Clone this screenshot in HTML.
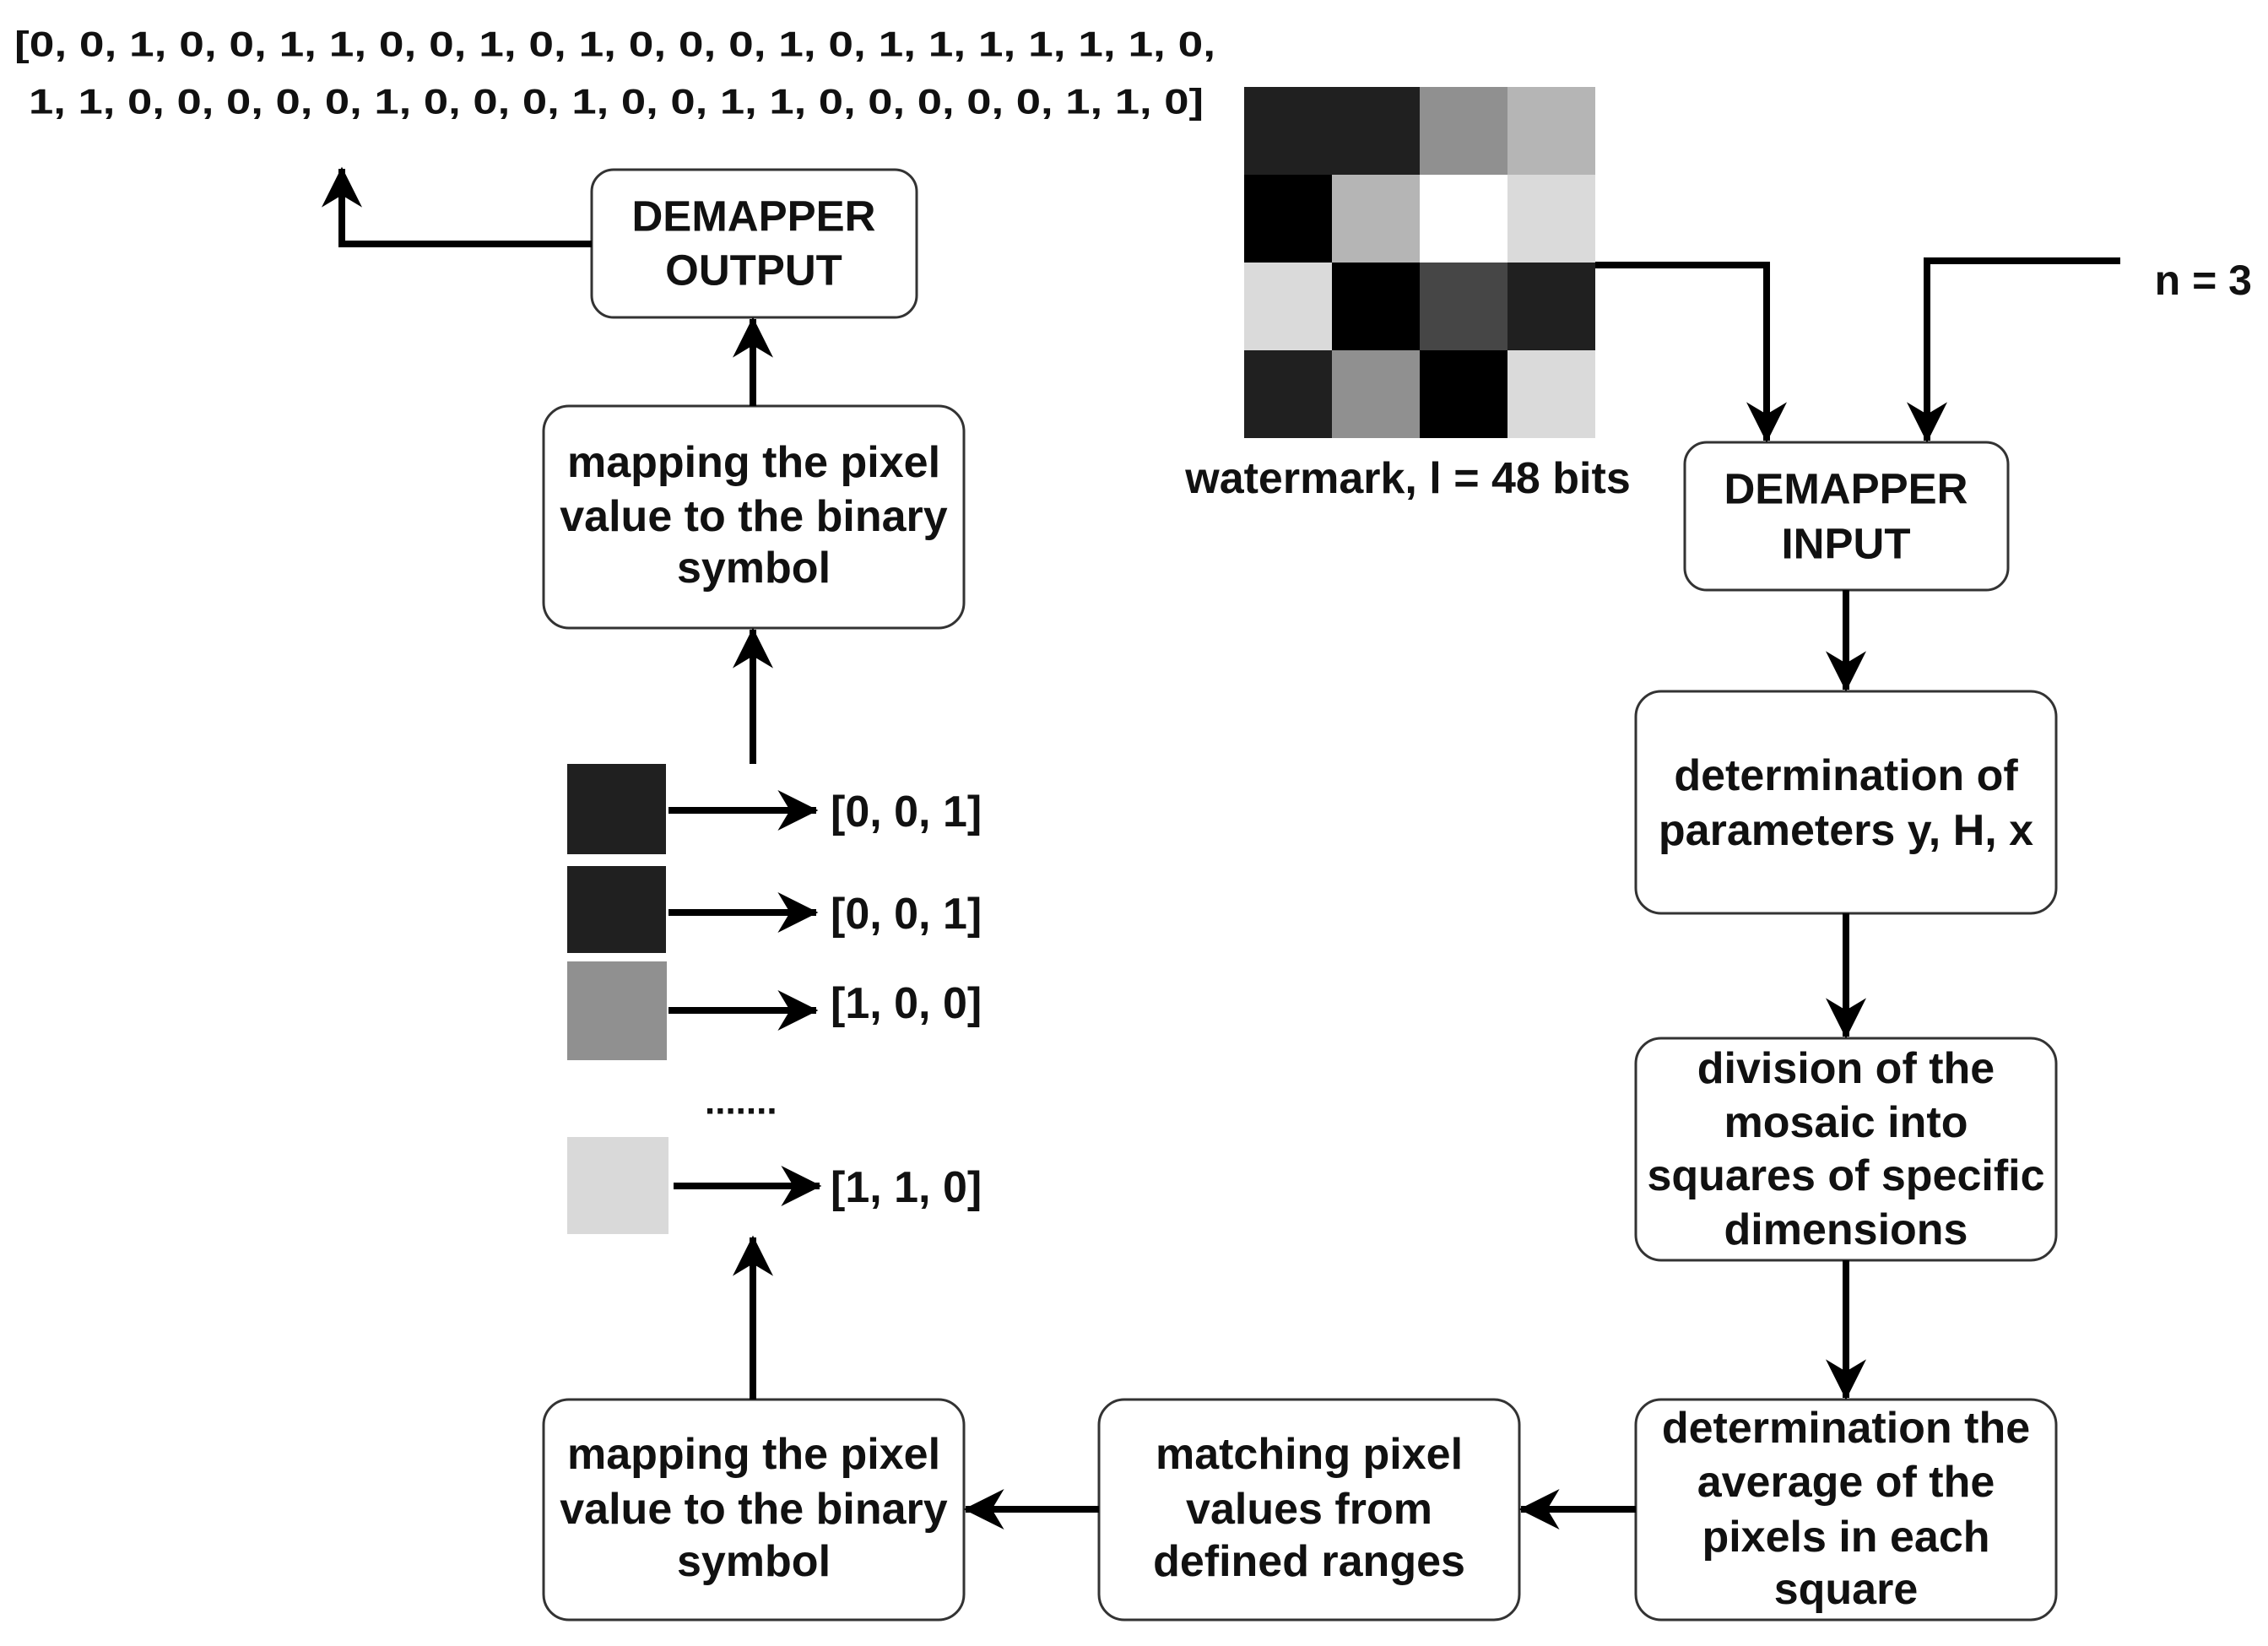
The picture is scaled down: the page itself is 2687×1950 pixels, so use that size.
<!DOCTYPE html>
<html><head><meta charset="utf-8"><style>
html,body{margin:0;padding:0;background:#fff}
svg{display:block}
text{font-family:"Liberation Sans",Arial,sans-serif;font-weight:bold;fill:#111}
</style></head><body>
<svg width="2687" height="1950" viewBox="0 0 2687 1950" xmlns="http://www.w3.org/2000/svg">
<defs>
<marker id="a" viewBox="0 0 20 20" refX="19" refY="10" markerWidth="6.5" markerHeight="6" orient="auto" markerUnits="strokeWidth">
<path d="M0,0 L20,10 L0,20 L6,10 Z" fill="#000"/>
</marker>
</defs>
<rect width="2687" height="1950" fill="#fff"/>

<text x="17" y="52" font-size="42" dominant-baseline="central" textLength="1423" lengthAdjust="spacingAndGlyphs">[0, 0, 1, 0, 0, 1, 1, 0, 0, 1, 0, 1, 0, 0, 0, 1, 0, 1, 1, 1, 1, 1, 1, 0,</text>
<text x="34" y="120" font-size="42" dominant-baseline="central" textLength="1392" lengthAdjust="spacingAndGlyphs">1, 1, 0, 0, 0, 0, 0, 1, 0, 0, 0, 1, 0, 0, 1, 1, 0, 0, 0, 0, 0, 1, 1, 0]</text>

<g fill="#fff" stroke="#333" stroke-width="3">
<rect x="701" y="201" width="385" height="175" rx="26"/>
<rect x="644" y="481" width="498" height="263" rx="30"/>
<rect x="644" y="1658" width="498" height="261" rx="30"/>
<rect x="1302" y="1658" width="498" height="261" rx="30"/>
<rect x="1938" y="1658" width="498" height="261" rx="30"/>
<rect x="1996" y="524" width="383" height="175" rx="26"/>
<rect x="1938" y="819" width="498" height="263" rx="30"/>
<rect x="1938" y="1230" width="498" height="263" rx="30"/>
</g>

<g>
<rect x="1474" y="103" width="104" height="104" fill="#202020"/>
<rect x="1578" y="103" width="104" height="104" fill="#202020"/>
<rect x="1682" y="103" width="104" height="104" fill="#909090"/>
<rect x="1786" y="103" width="104" height="104" fill="#b5b5b5"/>
<rect x="1474" y="207" width="104" height="104" fill="#000"/>
<rect x="1578" y="207" width="104" height="104" fill="#b5b5b5"/>
<rect x="1682" y="207" width="104" height="104" fill="#fff"/>
<rect x="1786" y="207" width="104" height="104" fill="#dadada"/>
<rect x="1474" y="311" width="104" height="104" fill="#dadada"/>
<rect x="1578" y="311" width="104" height="104" fill="#000"/>
<rect x="1682" y="311" width="104" height="104" fill="#464646"/>
<rect x="1786" y="311" width="104" height="104" fill="#202020"/>
<rect x="1474" y="415" width="104" height="104" fill="#202020"/>
<rect x="1578" y="415" width="104" height="104" fill="#909090"/>
<rect x="1682" y="415" width="104" height="104" fill="#000"/>
<rect x="1786" y="415" width="104" height="104" fill="#dadada"/>
</g>

<rect x="672" y="905" width="117" height="107" fill="#202020"/>
<rect x="672" y="1026" width="117" height="103" fill="#202020"/>
<rect x="672" y="1139" width="118" height="117" fill="#909090"/>
<rect x="672" y="1347" width="120" height="115" fill="#d9d9d9"/>

<g stroke="#000" stroke-width="8" fill="none" marker-end="url(#a)">
<polyline points="701,289 405,289 405,200"/>
<line x1="892" y1="481" x2="892" y2="378"/>
<line x1="892" y1="905" x2="892" y2="746"/>
<line x1="792" y1="960" x2="967" y2="960"/>
<line x1="792" y1="1081" x2="967" y2="1081"/>
<line x1="792" y1="1197" x2="967" y2="1197"/>
<line x1="798" y1="1405" x2="971" y2="1405"/>
<line x1="892" y1="1658" x2="892" y2="1466"/>
<line x1="1938" y1="1788" x2="1802" y2="1788"/>
<line x1="1302" y1="1788" x2="1144" y2="1788"/>
<polyline points="1890,314 2093,314 2093,522"/>
<polyline points="2512,309 2283,309 2283,522"/>
<line x1="2187" y1="699" x2="2187" y2="817"/>
<line x1="2187" y1="1082" x2="2187" y2="1228"/>
<line x1="2187" y1="1493" x2="2187" y2="1656"/>
</g>

<g font-size="51" text-anchor="middle" dominant-baseline="central">
<text x="893" y="256">DEMAPPER</text>
<text x="893" y="320">OUTPUT</text>
<text x="2187" y="579">DEMAPPER</text>
<text x="2187" y="644">INPUT</text>
</g>
<g font-size="52" text-anchor="middle" dominant-baseline="central">
<text x="893" y="548">mapping the pixel</text>
<text x="893" y="612">value to the binary</text>
<text x="893" y="673">symbol</text>
<text x="893" y="1723">mapping the pixel</text>
<text x="893" y="1788">value to the binary</text>
<text x="893" y="1850">symbol</text>
<text x="1551" y="1723">matching pixel</text>
<text x="1551" y="1788">values from</text>
<text x="1551" y="1850">defined ranges</text>
<text x="2187" y="1692">determination the</text>
<text x="2187" y="1756">average of the</text>
<text x="2187" y="1821">pixels in each</text>
<text x="2187" y="1883">square</text>
<text x="2187" y="919">determination of</text>
<text x="2187" y="984">parameters y, H, x</text>
<text x="2187" y="1266">division of the</text>
<text x="2187" y="1330">mosaic into</text>
<text x="2187" y="1393">squares of specific</text>
<text x="2187" y="1457">dimensions</text>
<text x="1668" y="567">watermark, l = 48 bits</text>
</g>
<text x="2668" y="332" font-size="50" text-anchor="end" dominant-baseline="central">n = 3</text>
<g font-size="52" dominant-baseline="central">
<text x="984" y="962">[0, 0, 1]</text>
<text x="984" y="1083">[0, 0, 1]</text>
<text x="984" y="1189">[1, 0, 0]</text>
<text x="984" y="1407">[1, 1, 0]</text>
<text x="835" y="1305" font-size="44">.......</text>
</g>
</svg>
</body></html>
